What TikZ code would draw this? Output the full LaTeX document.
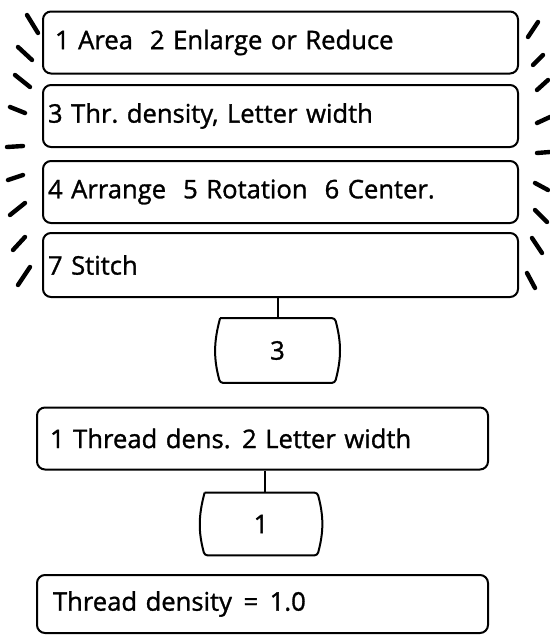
\documentclass[tikz,border=0pt]{standalone}
\usepackage{fontspec}
\setmainfont{Open Sans}[FakeBold=1.2]
\frenchspacing
\begin{document}
\begin{tikzpicture}[
        x=0.5pt, y=-0.5pt,
        menubox/.style={draw, line width=1pt, rounded corners=4pt,
          minimum width=237.5pt, minimum height=31pt, inner xsep=2.5pt,
          text width=232.5pt, align=left, font=\fontsize{12.8}{15}\selectfont},
        listbox/.style={menubox, minimum width=225.5pt, text width=212.5pt,
          inner xsep=6.5pt},
        keybox/.style={minimum width=57pt, minimum height=32pt, inner sep=0pt,
          font=\fontsize{12.8}{15}\selectfont},
        barrel/.style={line width=1pt, rounded corners=1.5pt},
        ray/.style={line width=2.2pt, line cap=round},
        link/.style={line width=1pt}
      ]
      \useasboundingbox (0,0) rectangle (550,637);

      % menu list
      \node[menubox, inner xsep=6pt, text width=225.5pt] (area)   at (280.5, 42.5) {1 Area\ \ 2 Enlarge or Reduce};
      \node[menubox] (thread) at (280.5,116.0) {3 Thr. density, Letter width};
      \node[menubox] (arrange) at (280.5,192.0) {4 Arrange\ \ 5 Rotation\ \ 6 Center.};
      \node[menubox, minimum height=32pt] (stitch) at (280.5,265.0) {7 Stitch};

      % flashing marks
      \foreach \ax/\ay/\bx/\by in {27/15/38/33, 18/47/32/60, 15/75/30/87, 10/107/25/113,
          7/147/23/146, 8/180/23/175, 10/215/25/203, 13/250/25/237, 18/285/30/267,
          538/22/528/37, 543/55/533/65, 548/80/537/90, 550/117/537/123,
          550/152/537/153, 535/183/548/190, 535/210/547/222, 532/238/542/253,
          527/273/535/288}
        \draw[ray] (\ax,\ay) -- (\bx,\by);

      % key 3
      \node[keybox] (keythree) at (277.5,350.5) {3};
      \draw[barrel] (keythree.north west) -- (keythree.north east)
        to[out=-75, in=75] (keythree.south east) -- (keythree.south west)
        to[out=105, in=-105] (keythree.north west);
      \draw[link] (keythree.north) -- (keythree.north |- stitch.south);

      % sub menu
      \node[listbox] (dens) at (262.5,438.5) {1 Thread dens.\hspace{0.45em}2 Letter width};

      % key 1
      \node[keybox, minimum width=56pt, minimum height=31pt] (keyone) at (261,524) {1};
      \draw[barrel] (keyone.north west) -- (keyone.north east)
        to[out=-75, in=75] (keyone.south east) -- (keyone.south west)
        to[out=105, in=-105] (keyone.north west);
      \draw[link] (keyone.north -| dens.south) ++(2,0) coordinate (d1) (dens.south -| d1) -- (d1);

      % result
      \node[listbox, minimum height=29pt, inner xsep=8pt, text width=209.5pt] (result) at (262.5,604) {Thread density\hspace{0.45em}=\hspace{0.45em}1.0};

    \end{tikzpicture}
\end{document}
